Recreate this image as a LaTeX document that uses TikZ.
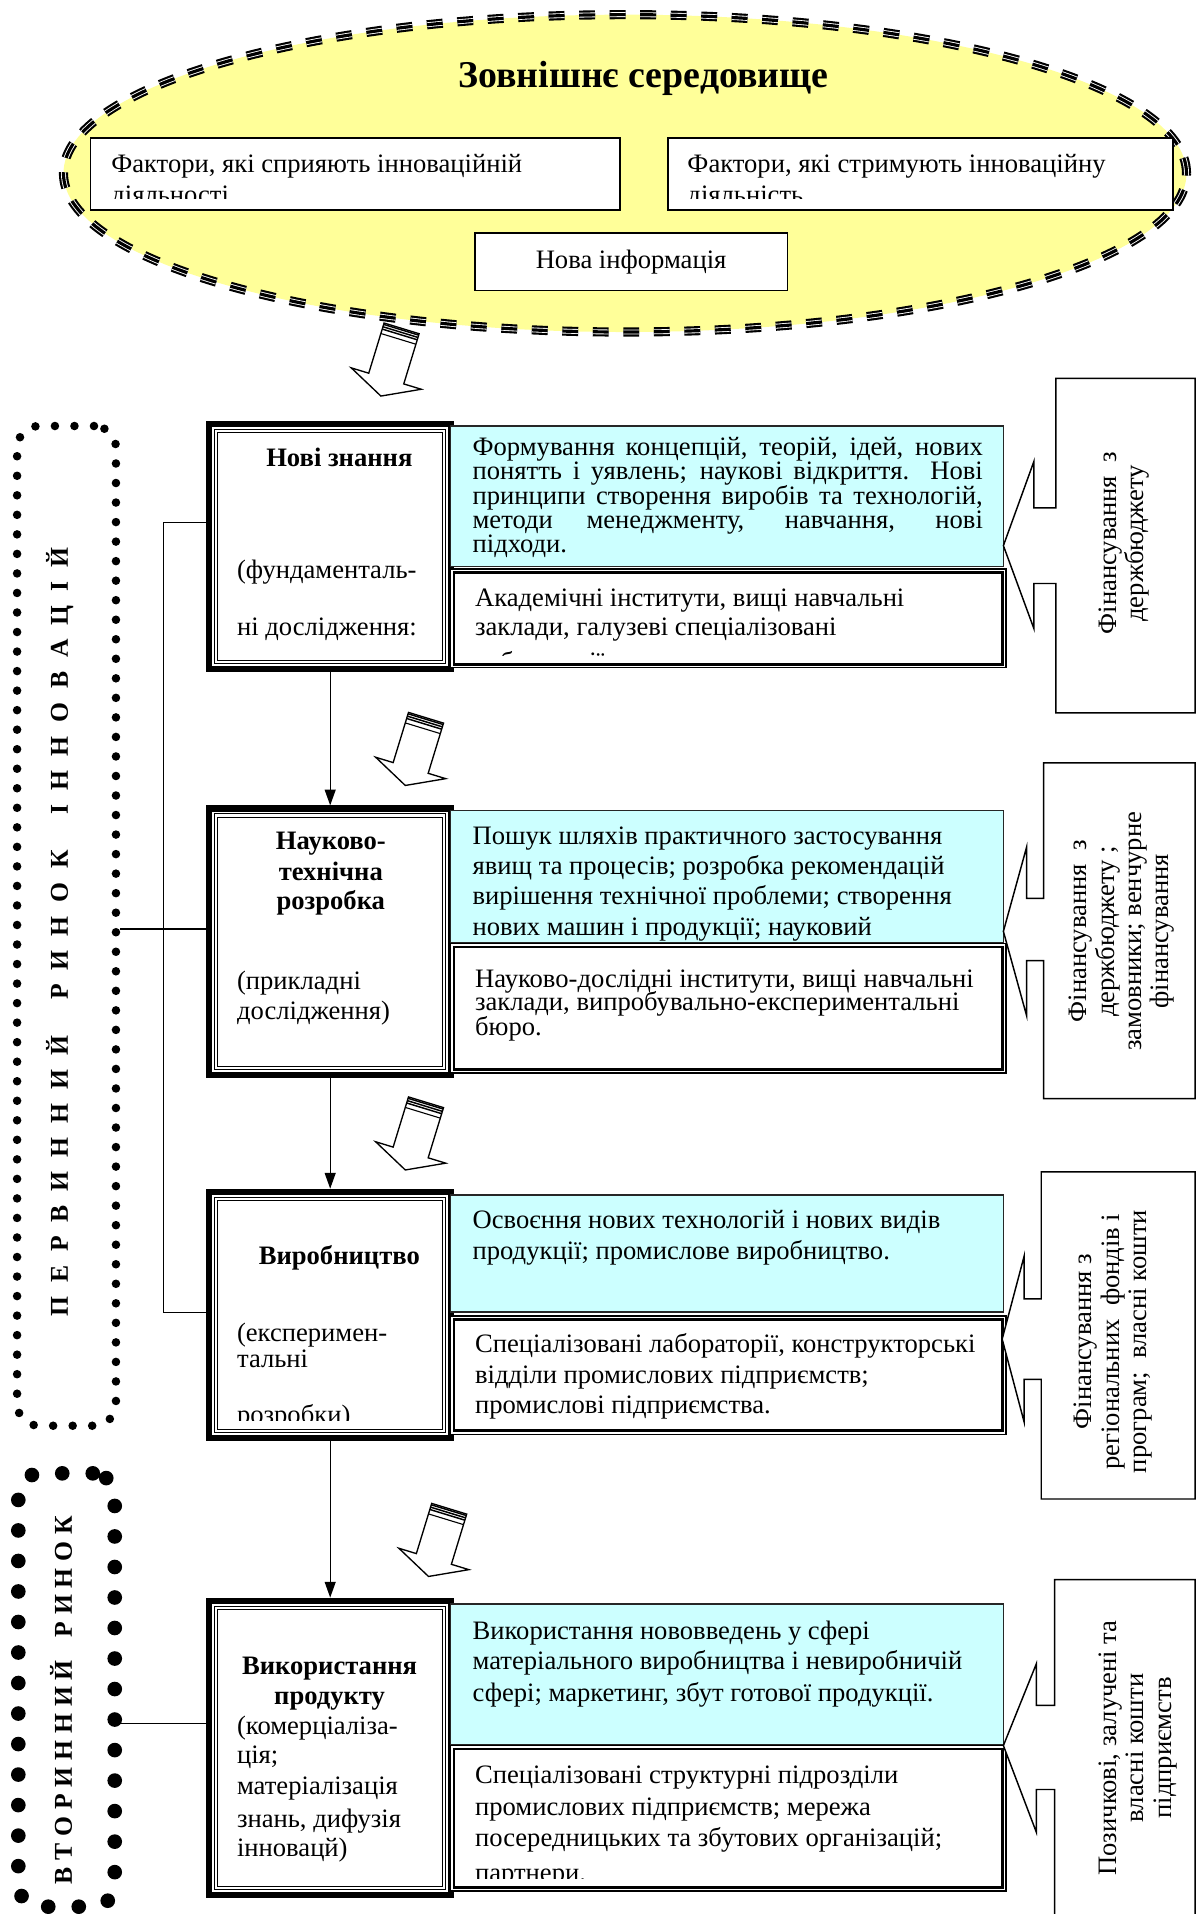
\documentclass[tikz,border=0pt]{standalone}
\usepackage{fontspec}
\setmainfont{Liberation Serif}
\usetikzlibrary{arrows.meta,calc}
\definecolor{ellyellow}{HTML}{FFFF99}
\definecolor{boxcyan}{HTML}{CCFFFF}
\makeatletter
\newcommand\spreadword[2]{\def\spread@k{#1}\spread@a#2\relax}
\def\spread@a#1{\ifx\relax#1\else#1\kern\spread@k\expandafter\spread@a\fi}
\makeatother
\newcommand\bodysize{\fontsize{21.8}{24}\selectfont}
\tikzset{
  body/.style={inner sep=0pt, font=\bodysize},
  tl/.style={body, anchor=base west},
  tc/.style={body, anchor=base},
  bc/.style={inner sep=0pt, anchor=base, font=\bfseries\bodysize},
  stagenode/.style={draw=none, inner sep=0pt, minimum width=203pt},
  cyanbox/.style={draw=black!85, line width=1.2, fill=boxcyan, inner sep=0pt, minimum width=453pt},
  whitebox/.style={draw=black, line width=1.2, fill=white, inner sep=0pt, minimum width=455pt},
  envbox/.style={draw=black, line width=1.3, fill=white, inner sep=0pt},
  vlink/.style={line width=1.1, -{Triangle[width=9pt,length=13pt]}},
  link/.style={line width=1.1},
  dotbox/.style={draw, line cap=round, rounded corners=18pt, inner sep=0pt},
  callout/.style={draw=black, line width=1.2, fill=white},
  vtext/.style={rotate=90, align=center, inner sep=0pt, font=\fontsize{21.8}{22.5}\selectfont},
  hollowarrow/.pic={
    \draw[line width=1.1, fill=white, line join=miter] (-15,0) -- (15,0) -- (15,43) -- (30,43) -- (0,58) -- (-30,43) -- (-15,43) -- cycle;
    \foreach \v in {1.2,3.2,5.2} \draw[line width=1.2] (-15,\v) -- (15,\v);
    \draw[line width=0.9] (-15,9) -- (15,9);
  }
}
\newcommand\stageframe[1]{%
  \draw[line width=5] ([shift={(2.5,2.5)}]#1.north west) rectangle ([shift={(-2.5,-2.5)}]#1.south east);
  \draw[line width=0.8] ([shift={(7,7)}]#1.north west) rectangle ([shift={(-7,-7)}]#1.south east);
  \draw[line width=0.8] ([shift={(9.5,9.5)}]#1.north west) rectangle ([shift={(-9.5,-9.5)}]#1.south east);}
\newcommand\whiteframe[1]{%
  \draw[line width=2.2] ([shift={(3.5,3.5)}]#1.north west) rectangle ([shift={(-3.5,-3.5)}]#1.south east);}
\begin{document}
\begin{tikzpicture}[x=1pt,y=-1pt]
\useasboundingbox (0,0) rectangle (986,1568);
\clip (0,0) rectangle (986,1568);
\fill[white] (0,0) rectangle (986,1568);

% ---------- external environment ellipse ----------
\fill[ellyellow] (512,142) ellipse [x radius=460pt, y radius=130pt];
\draw[line width=7.5, dash pattern=on 13pt off 12pt] (512,142) ellipse [x radius=460pt, y radius=130pt];
\draw[white, line width=4, dash pattern=on 13pt off 12pt] (512,142) ellipse [x radius=460pt, y radius=130pt];
\draw[line width=2.6, dash pattern=on 13pt off 12pt] (512,142) ellipse [x radius=460pt, y radius=130pt];

\node[inner sep=0pt, font=\bfseries\fontsize{31}{33}\selectfont] (title) at (527,64) {Зовнішнє середовище};

\node[envbox, minimum width=434pt, minimum height=59pt] (fa) at (291,142.5) {};
\node[envbox, minimum width=414pt, minimum height=59pt] (fb) at (754,142.5) {};
\node[envbox, minimum width=256pt, minimum height=47pt] (ni) at (517,214.5) {};
\node[body] (nit) at (ni.center) {Нова інформація};
\begin{scope}
  \clip (75,114) rectangle (507,163);
  \node[tl] (fa1) at (91,141) {Фактори, які сприяють інноваційній};
  \node[tl] (fa2) at (91,167) {діяльності};
\end{scope}
\begin{scope}
  \clip (548,114) rectangle (960,163);
  \node[tl] (fb1) at (563,141) {Фактори, які стримують інноваційну};
  \node[tl] (fb2) at (563,167) {діяльність};
\end{scope}

% ---------- hollow arrows ----------
\pic[rotate=-17] at (329,269) {hollowarrow};
\pic[rotate=-17] at (349,588) {hollowarrow};
\pic[rotate=-17] at (349,903) {hollowarrow};
\pic[rotate=-17] at (368,1236) {hollowarrow};

% ---------- dotted market frames ----------
\node[dotbox, line width=7pt, dash pattern=on 0pt off 16pt, minimum width=81pt, minimum height=819pt] (p1) at (54.5,758.5) {};
\node[dotbox, line width=12pt, dash pattern=on 0pt off 25pt, minimum width=79pt, minimum height=355pt] (p2) at (54.5,1384.5) {};
\node[rotate=90, inner sep=0pt, font=\bfseries\fontsize{21}{22}\selectfont] (lab1) at (49,758)
  {\spreadword{11.4pt}{ПЕРВИННИЙ}\hspace{18pt}\spreadword{11.4pt}{РИНОК}\hspace{18pt}\spreadword{11.4pt}{ІННОВАЦІЙ}};
\node[rotate=90, inner sep=0pt, font=\bfseries\fontsize{21}{22}\selectfont] (lab2) at (50,1390)
  {\spreadword{5.6pt}{ВТОРИННИЙ}\hspace{13pt}\spreadword{5.6pt}{РИНОК}};

% ---------- stage boxes ----------
\node[stagenode, minimum height=205pt] (s1) at (270.5,447.5) {};
\node[stagenode, minimum height=223pt] (s2) at (270.5,771.5) {};
\node[stagenode, minimum height=206pt] (s3) at (270.5,1077) {};
\node[stagenode, minimum height=246pt] (s4) at (270.5,1432) {};
\stageframe{s1}\stageframe{s2}\stageframe{s3}\stageframe{s4}

% connectors
\coordinate (jA) at (134,428);
\coordinate (jB) at (134,761);
\coordinate (jC) at (134,1075);
\coordinate (jD) at (94,1412);
\draw[link] (s1.west |- jA) -- (jA) -- (jC) -- (s3.west |- jC);
\draw[link] (p1.east |- jB) -- (s2.west |- jB);
\draw[link] (jD) -- (s4.west |- jD);
\draw[vlink] (s1.south) -- (s2.north);
\draw[vlink] (s2.south) -- (s3.north);
\draw[vlink] (s3.south) -- (s4.north);

% cyan / white boxes
\node[cyanbox, minimum height=115pt] (c1) at (595.5,406.5) {};
\node[whitebox, minimum height=81pt] (w1) at (596.5,506.5) {};
\node[cyanbox, minimum height=108pt] (c2) at (595.5,718) {};
\node[whitebox, minimum height=106pt] (w2) at (596.5,826) {};
\node[cyanbox, minimum height=96pt] (c3) at (595.5,1027) {};
\node[whitebox, minimum height=97pt] (w3) at (596.5,1126.5) {};
\node[cyanbox, minimum height=115pt] (c4) at (595.5,1371.5) {};
\node[whitebox, minimum height=119pt] (w4) at (596.5,1489.5) {};
\whiteframe{w1}\whiteframe{w2}\whiteframe{w3}\whiteframe{w4}

% ---------- stage texts ----------
\node[bc] (s1a) at (278,382) {Нові знання};
\node[tl] (s1b) at (194,474) {(фундаменталь-};
\node[tl] (s1c) at (194,521) {ні дослідження:};

\node[bc] (s2a) at (271,696) {Науково-};
\node[bc] (s2b) at (271,721) {технічна};
\node[bc] (s2c) at (271,745) {розробка};
\node[tl] (s2d) at (194,811) {(прикладні};
\node[tl] (s2e) at (194,835) {дослідження)};

\node[bc] (s3a) at (278,1036) {Виробництво};
\node[tl] (s3b) at (194,1099) {(експеримен-};
\node[tl] (s3c) at (194,1120) {тальні};
\begin{scope}
  \clip (178,1140) rectangle (362,1164);
  \node[tl] (s3d) at (194,1166) {розробки)};
\end{scope}

\node[bc] (s4a) at (270,1372) {Використання};
\node[bc] (s4b) at (270,1396) {продукту};
\node[tl] (s4c) at (194,1421) {(комерціаліза-};
\node[tl] (s4d) at (194,1445) {ція;};
\node[tl] (s4e) at (194,1470) {матеріалізація};
\node[tl] (s4f) at (194,1497) {знань, дифузія};
\node[tl] (s4g) at (194,1521) {інновацй)};

% cyan texts
\node[tl] (c1a) at (387,373) {\makebox[418pt][s]{Формування концепцій, теорій, ідей, нових}};
\node[tl] (c1b) at (387,392.5) {\makebox[418pt][s]{понятть і уявлень; наукові відкриття. Нові}};
\node[tl] (c1c) at (387,413) {\makebox[418pt][s]{принципи створення виробів та технологій,}};
\node[tl] (c1d) at (387,433) {\makebox[418pt][s]{методи менеджменту, навчання, нові}};
\node[tl] (c1e) at (387,453) {підходи.};

\node[tl] (c2a) at (387,692) {Пошук шляхів практичного застосування};
\node[tl] (c2b) at (387,716) {явищ та процесів; розробка рекомендацій};
\node[tl] (c2c) at (387,741) {вирішення технічної проблеми; створення};
\node[tl] (c2d) at (387,766) {нових машин і продукції; науковий};

\node[tl] (c3a) at (387,1006) {Освоєння нових технологій і нових видів};
\node[tl] (c3b) at (387,1032) {продукції; промислове виробництво.};

\node[tl] (c4a) at (387,1343) {Використання нововведень у сфері};
\node[tl] (c4b) at (387,1368) {матеріального виробництва і невиробничій};
\node[tl] (c4c) at (387,1394) {сфері; маркетинг, збут готової продукції.};

% white texts
\begin{scope}
  \clip (374,470) rectangle (820,537);
  \node[tl] (w1a) at (389,497) {Академічні інститути, вищі навчальні};
  \node[tl] (w1b) at (389,521) {заклади, галузеві спеціалізовані};
  \node[tl] (w1c) at (389,549) {лабораторії};
\end{scope}
\node[tl] (w2a) at (389,809) {Науково-дослідні інститути, вищі навчальні};
\node[tl] (w2b) at (389,828) {заклади, випробувально-експериментальні};
\node[tl] (w2c) at (389,848) {бюро.};

\node[tl] (w3a) at (389,1108) {Спеціалізовані лабораторії, конструкторські};
\node[tl] (w3b) at (389,1133) {відділи промислових підприємств;};
\node[tl] (w3c) at (389,1158) {промислові підприємства.};

\begin{scope}
  \clip (374,1434) rectangle (820,1539);
  \node[tl] (w4a) at (389,1461) {Спеціалізовані структурні підрозділи};
  \node[tl] (w4b) at (389,1487) {промислових підприємств; мережа};
  \node[tl] (w4c) at (389,1513) {посередницьких та збутових організацій;};
  \node[tl] (w4d) at (389,1541) {партнери.};
\end{scope}

% ---------- financing callouts ----------
\draw[callout] (865,310) -- (979,310) -- (979,584) -- (865,584) -- (865,478) -- (847,478) -- (847,515) -- (822,447) -- (847,378) -- (847,416) -- (865,416) -- cycle;
\draw[callout] (855,625) -- (979,625) -- (979,900) -- (855,900) -- (855,787) -- (841,787) -- (841,832) -- (822,763) -- (841,694) -- (841,736) -- (855,736) -- cycle;
\draw[callout] (853,960) -- (979,960) -- (979,1228) -- (853,1228) -- (853,1130) -- (839,1130) -- (839,1165) -- (821,1097) -- (839,1029) -- (839,1064) -- (853,1064) -- cycle;
\draw[callout] (864,1294) -- (979,1294) -- (979,1590) -- (864,1590) -- (864,1466) -- (849,1466) -- (849,1501) -- (822,1430) -- (849,1363) -- (849,1397) -- (864,1397) -- cycle;

\node[vtext] (f1) at (921,445) {Фінансування~~з\\держбюджету};
\node[vtext] (f2) at (919,763) {Фінансування~~з\\держбюджету ;\\замовники; венчурне\\фінансування};
\node[vtext] (f3) at (912,1099) {Фінансування з\\регіональних~ фондів і\\програм;~ власні кошти};
\node[vtext] (f4) at (932,1432) {Позичкові, залучені та\\власні кошти\\підприємств};
\end{tikzpicture}
\end{document}
